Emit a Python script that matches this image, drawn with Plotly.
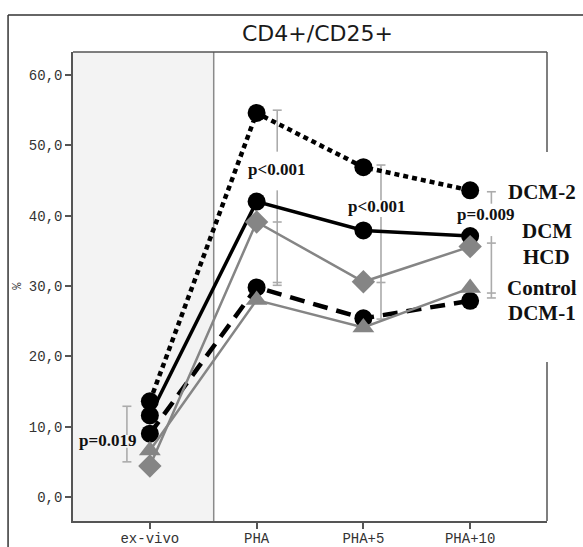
import plotly.graph_objects as go

# ---------------- data ----------------
categories = ["ex-vivo", "PHA", "PHA+5", "PHA+10"]
y_ticks = [0, 10, 20, 30, 40, 50, 60]
y_ticklabels = ["0,0", "10,0", "20,0", "30,0", "40,0", "50,0", "60,0"]

dcm2 = [13.6, 54.6, 46.9, 43.6]
dcm = [11.6, 42.0, 37.9, 37.1]
dcm1 = [9.0, 29.8, 25.4, 27.9]
hcd = [4.4, 39.1, 30.6, 35.6]
control = [6.6, 28.0, 24.1, 29.7]

# range bars: (category index, offset, low, high)
bar_segments = [
    (0, -0.215, 5.0, 7.0), (0, -0.215, 8.8, 12.9),
    (1, 0.193, 30.1, 43.6), (1, 0.193, 49.1, 55.0),
    (2, 0.165, 25.3, 39.8), (2, 0.165, 42.2, 47.2),
    (3, 0.199, 28.3, 37.1), (3, 0.199, 41.7, 43.4),
]
# caps: (category index, offset, value)
bar_caps = [
    (0, -0.215, 5.0), (0, -0.215, 12.9),
    (1, 0.193, 55.0), (1, 0.193, 39.1), (1, 0.193, 30.5), (1, 0.193, 30.1),
    (2, 0.165, 47.2), (2, 0.165, 30.5), (2, 0.165, 25.3),
    (3, 0.199, 43.4), (3, 0.199, 36.1), (3, 0.199, 29.0), (3, 0.199, 28.3),
]
p_labels = ["p=0.019", "p<0.001", "p<0.001", "p=0.009"]
p_label_x = [-0.40, 1.19, 2.12, 3.147]
p_label_y = [8.0, 46.5, 41.3, 40.1]

x = list(range(len(categories)))

fig = go.Figure()

BLACK = "#000000"
GRAY = "#858585"
BARGRAY = "#ababab"

# range bars
bx, by = [], []
for ci, off, lo, hi in bar_segments:
    bx += [ci + off, ci + off, None]
    by += [lo, hi, None]
capw = 0.042
for ci, off, v in bar_caps:
    bx += [ci + off - capw, ci + off + capw, None]
    by += [v, v, None]
fig.add_trace(go.Scatter(x=bx, y=by, mode="lines",
                         line=dict(color=BARGRAY, width=1.6),
                         hoverinfo="skip", showlegend=False))

fig.add_trace(go.Scatter(x=x, y=dcm2, mode="lines+markers", name="DCM-2",
                         line=dict(color=BLACK, width=4.5, dash="5px,4px"),
                         marker=dict(symbol="circle", size=18, color=BLACK)))
fig.add_trace(go.Scatter(x=x, y=dcm, mode="lines+markers", name="DCM",
                         line=dict(color=BLACK, width=3.5),
                         marker=dict(symbol="circle", size=18, color=BLACK)))
fig.add_trace(go.Scatter(x=x, y=dcm1, mode="lines+markers", name="DCM-1",
                         line=dict(color=BLACK, width=4.5, dash="15px,9px"),
                         marker=dict(symbol="circle", size=18, color=BLACK)))
fig.add_trace(go.Scatter(x=x, y=hcd, mode="lines+markers", name="HCD",
                         line=dict(color=GRAY, width=2.5),
                         marker=dict(symbol="diamond", size=18, color=GRAY)))
fig.add_trace(go.Scatter(x=x, y=control, mode="lines+markers", name="Control",
                         line=dict(color=GRAY, width=2.5),
                         marker=dict(symbol="triangle-up", size=19, color=GRAY)))

# p-value labels
for t, px, py in zip(p_labels, p_label_x, p_label_y):
    fig.add_annotation(x=px, y=py, xref="x", yref="y", text="<b>%s</b>" % t,
                       showarrow=False, xanchor="center", yanchor="middle",
                       font=dict(family="Liberation Serif", size=17, color="#111"))

# group labels on the right
serif = dict(family="Liberation Serif", size=21, color="#111")
right_labels = [
    ("DCM-2", 0.9135, 0.702, "left"),
    ("DCM", 0.999, 0.618, "center"),
    ("HCD", 0.999, 0.5635, "center"),
    ("Control", 0.912, 0.497, "left"),
    ("DCM-1", 0.9135, 0.4435, "left"),
]
for t, px, py, xa in right_labels:
    fig.add_annotation(x=px, y=py, xref="paper", yref="paper", text="<b>%s</b>" % t,
                       showarrow=False, xanchor=xa, yanchor="middle", font=serif)

# title
fig.add_annotation(x=0.5148, y=1.0384, xref="paper", yref="paper", text="CD4+/CD25+",
                   showarrow=False, xanchor="center", yanchor="middle",
                   font=dict(family="DejaVu Sans", size=22, color="#1a1a1a"))
# y-axis title
fig.add_annotation(x=-0.118, y=0.502, xref="paper", yref="paper", text="%",
                   showarrow=False, textangle=-90, xanchor="center", yanchor="middle",
                   font=dict(family="Liberation Mono", size=12, color="#333"))

shapes = [
    dict(type="rect", xref="x", yref="paper", x0=-0.72, x1=0.598, y0=0, y1=1,
         fillcolor="#f3f3f3", line=dict(width=0), layer="below"),
    dict(type="line", xref="x", yref="paper", x0=0.598, x1=0.598, y0=0, y1=1,
         line=dict(color="#8a8a8a", width=1.5), layer="below"),
    dict(type="line", xref="paper", yref="paper", x0=0, x1=1, y0=1, y1=1,
         line=dict(color="#555", width=1.5)),
    dict(type="line", xref="paper", yref="paper", x0=1, x1=1, y0=1, y1=0.787,
         line=dict(color="#555", width=1.5)),
    dict(type="line", xref="paper", yref="paper", x0=1, x1=1, y0=0.339, y1=0,
         line=dict(color="#555", width=1.5)),
    dict(type="line", xref="paper", yref="paper", x0=-0.137, x1=1.1, y0=1.0789, y1=1.0789,
         line=dict(color="#333", width=1.5)),
    dict(type="line", xref="paper", yref="paper", x0=-0.137, x1=-0.137, y0=1.0789, y1=-0.06,
         line=dict(color="#333", width=1.5)),
]

fig.update_layout(
    width=583, height=547,
    margin=dict(l=73, r=36, t=52, b=26),
    plot_bgcolor="white", paper_bgcolor="white",
    showlegend=False,
    shapes=shapes,
    xaxis=dict(range=[-0.72, 3.72], tickvals=x, ticktext=categories,
               automargin=False, ticklabelstandoff=-3,
               showgrid=False, zeroline=False, showline=True,
               linecolor="#555", linewidth=1.5, ticks="outside", ticklen=6,
               tickcolor="#555", tickwidth=1.5,
               tickfont=dict(family="Liberation Mono", size=14, color="#333")),
    yaxis=dict(range=[-3.41, 63.27], tickvals=y_ticks, ticktext=y_ticklabels,
               automargin=False,
               showgrid=False, zeroline=False, showline=True,
               linecolor="#555", linewidth=1.5, ticks="outside", ticklen=6,
               tickcolor="#555", tickwidth=1.5,
               tickfont=dict(family="Liberation Mono", size=14, color="#333")),
)

fig.write_html("out.html",
               config={"displayModeBar": False},
               post_script="document.body.style.margin='0px';"
                           "document.body.style.overflow='hidden';")
